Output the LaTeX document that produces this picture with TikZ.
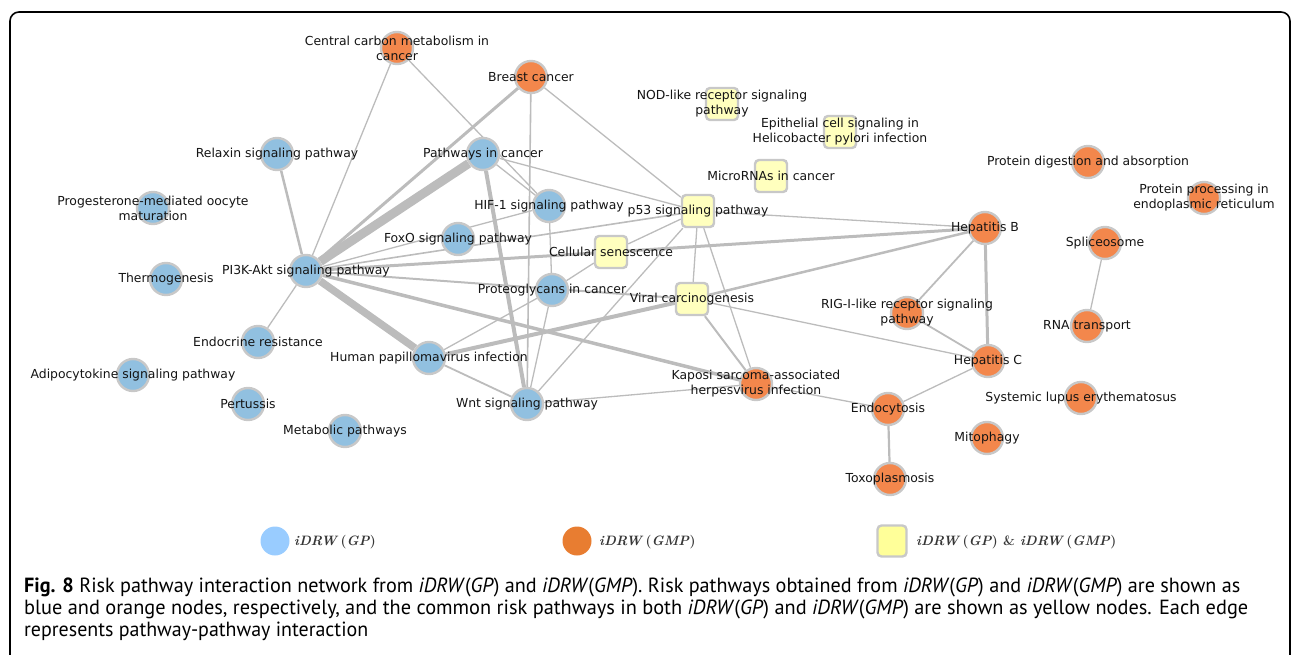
\documentclass[tikz,border=0pt]{standalone}
\usepackage{fontspec}
\usepackage{graphicx}
\usetikzlibrary{backgrounds}
\newfontfamily\labfont{DejaVu Sans}
\newfontfamily\capfont{PT Sans}
\definecolor{nblue}{RGB}{145,192,224}
\definecolor{norange}{RGB}{243,135,76}
\definecolor{nyellow}{RGB}{255,255,190}
\definecolor{nborder}{RGB}{200,200,200}
\definecolor{edgec}{RGB}{188,188,188}
\definecolor{lblue}{RGB}{153,204,255}
\definecolor{lorange}{RGB}{232,125,49}
\definecolor{lyellow}{RGB}{255,255,153}
\definecolor{txt}{RGB}{20,20,20}
\tikzset{
  bnode/.style={circle, fill=nblue, draw=nborder, line width=2.4pt, minimum size=32pt, inner sep=0pt},
  onode/.style={circle, fill=norange, draw=nborder, line width=2.4pt, minimum size=32pt, inner sep=0pt},
  ynode/.style={rectangle, rounded corners=4pt, fill=nyellow, draw=nborder, line width=2.4pt, minimum size=32pt, inner sep=0pt},
  lab/.style={font=\labfont\fontsize{12.4}{15}\selectfont, text=txt, align=center, inner sep=0pt},
  edge/.style={draw=edgec, line width=1.3pt},
  legtxt/.style={font=\fontsize{13.6}{16}\selectfont\bfseries, text=txt!85, anchor=west, inner sep=0pt},
  captxt/.style={font=\capfont\fontsize{20.5}{22}\selectfont, text=black, anchor=base west, inner sep=0pt}
}
\begin{document}
\begin{tikzpicture}[x=1pt,y=-1pt]
\useasboundingbox (0,0) rectangle (1292,655);
\draw[line width=1.6pt, rounded corners=9pt] (10,660) -- (10,12) -- (1290,12) -- (1290,660);
% nodes
\node[onode] (cc) at (397,48) {};
\node[onode] (bc) at (531,77) {};
\node[ynode] (nod) at (722,104) {};
\node[ynode] (epi) at (840,132) {};
\node[bnode] (relax) at (277,154) {};
\node[bnode] (pc) at (483,154) {};
\node[ynode] (mir) at (771,176) {};
\node[onode] (pdig) at (1088,162) {};
\node[onode] (pproc) at (1204,198) {};
\node[bnode] (prog) at (153,208) {};
\node[bnode] (hif) at (549,206) {};
\node[ynode] (p53) at (698,211) {};
\node[onode] (hepb) at (985,228) {};
\node[bnode] (fox) at (458,239) {};
\node[onode] (splic) at (1105,243) {};
\node[ynode] (cs) at (611,252) {};
\node[bnode] (pi3k) at (306,271) {};
\node[bnode] (thermo) at (166,279) {};
\node[bnode] (proteo) at (552,290) {};
\node[ynode] (vc) at (692,299) {};
\node[onode] (rig) at (907,313) {};
\node[onode] (rna) at (1087,326) {};
\node[bnode] (endo) at (258,342) {};
\node[bnode] (hpv) at (429,358) {};
\node[onode] (hepc) at (988,361) {};
\node[bnode] (adipo) at (133,375) {};
\node[onode] (kshv) at (756,384) {};
\node[onode] (sle) at (1081,398) {};
\node[bnode] (pert) at (248,404) {};
\node[bnode] (wnt) at (527,404) {};
\node[onode] (endoc) at (888,409) {};
\node[onode] (mito) at (987,438) {};
\node[bnode] (metab) at (345,431) {};
\node[onode] (toxo) at (890,479) {};
% edges
\begin{scope}[on background layer]
\draw[edge, line width=9pt] (pi3k) -- (pc);
\draw[edge, line width=7.5pt] (pi3k) -- (hpv);
\draw[edge, line width=4pt] (pc) -- (wnt);
\draw[edge, line width=4pt] (hpv) -- (vc);
\draw[edge, line width=3.5pt] (pi3k) -- (kshv);
\draw[edge, line width=3pt] (pi3k) -- (cs);
\draw[edge, line width=3pt] (cs) -- (hepb);
\draw[edge, line width=3pt] (pi3k) -- (bc);
\draw[edge, line width=2.5pt] (pi3k) -- (relax);
\draw[edge, line width=2.5pt] (vc) -- (hepb);
\draw[edge, line width=3pt] (hepb) -- (hepc);
\draw[edge, line width=2pt] (pi3k) -- (vc);
\draw[edge, line width=2.2pt] (endoc) -- (toxo);
\draw[edge, line width=2pt] (vc) -- (kshv);
\draw[edge, line width=1.8pt] (hepb) -- (rig);
\draw[edge, line width=1.8pt] (rig) -- (hepc);
\draw[edge, line width=1.8pt] (hpv) -- (wnt);
\draw[edge, line width=1.6pt] (bc) -- (wnt);
\draw[edge] (pi3k) -- (cc);
\draw[edge] (pi3k) -- (endo);
\draw[edge] (pi3k) -- (hif);
\draw[edge, line width=1.6pt] (pi3k) -- (p53);
\draw[edge] (cc) -- (hif);
\draw[edge] (bc) -- (p53);
\draw[edge] (pc) -- (hif);
\draw[edge] (pc) -- (p53);
\draw[edge] (hif) -- (proteo);
\draw[edge] (p53) -- (hepb);
\draw[edge] (p53) -- (cs);
\draw[edge] (p53) -- (vc);
\draw[edge] (p53) -- (kshv);
\draw[edge] (p53) -- (wnt);
\draw[edge] (proteo) -- (cs);
\draw[edge] (proteo) -- (hpv);
\draw[edge] (proteo) -- (wnt);
\draw[edge] (wnt) -- (kshv);
\draw[edge] (vc) -- (hepc);
\draw[edge] (kshv) -- (endoc);
\draw[edge] (hepc) -- (endoc);
\draw[edge] (splic) -- (rna);
\end{scope}
% labels
\node[lab] at (cc) {Central carbon metabolism in\\cancer};
\node[lab] at (bc) {Breast cancer};
\node[lab] at (nod) {NOD-like receptor signaling\\pathway};
\node[lab] at (epi) {Epithelial cell signaling in\\Helicobacter pylori infection};
\node[lab] at (relax) {Relaxin signaling pathway};
\node[lab] at (pc) {Pathways in cancer};
\node[lab] at (mir) {MicroRNAs in cancer};
\node[lab] at (pdig) {Protein digestion and absorption};
\node[lab] at (pproc) {Protein processing in\\endoplasmic reticulum};
\node[lab] at (prog) {Progesterone-mediated oocyte\\maturation};
\node[lab] at (hif) {HIF-1 signaling pathway};
\node[lab] at (p53) {p53 signaling pathway};
\node[lab] at (hepb) {Hepatitis B};
\node[lab] at (fox) {FoxO signaling pathway};
\node[lab] at (splic) {Spliceosome};
\node[lab] at (cs) {Cellular senescence};
\node[lab] at (pi3k) {PI3K-Akt signaling pathway};
\node[lab] at (thermo) {Thermogenesis};
\node[lab] at (proteo) {Proteoglycans in cancer};
\node[lab] at (vc) {Viral carcinogenesis};
\node[lab] at (rig) {RIG-I-like receptor signaling\\pathway};
\node[lab] at (rna) {RNA transport};
\node[lab] at (endo) {Endocrine resistance};
\node[lab] at (hpv) {Human papillomavirus infection};
\node[lab] at (hepc) {Hepatitis C};
\node[lab] at (adipo) {Adipocytokine signaling pathway};
\node[lab] at (kshv) {Kaposi sarcoma-associated\\herpesvirus infection};
\node[lab] at (sle) {Systemic lupus erythematosus};
\node[lab] at (pert) {Pertussis};
\node[lab] at (wnt) {Wnt signaling pathway};
\node[lab] at (endoc) {Endocytosis};
\node[lab] at (mito) {Mitophagy};
\node[lab] at (metab) {Metabolic pathways};
\node[lab] at (toxo) {Toxoplasmosis};
% legend
\node[circle, fill=lblue, minimum size=29pt, inner sep=0pt] (lgb) at (275,541) {};
\node[legtxt] (lgbt) at (294,542) {\textit{iDRW}\,(\textit{GP})};
\node[circle, fill=lorange, minimum size=29pt, inner sep=0pt] (lgo) at (577,541) {};
\node[legtxt] (lgot) at (599,542) {\textit{iDRW}\,(\textit{GMP})};
\node[rectangle, rounded corners=4pt, fill=lyellow, draw=nborder, line width=2.4pt, minimum width=29pt, minimum height=31pt, inner sep=0pt] (lgy) at (892,541) {};
\node[legtxt] (lgyt) at (916,542) {\textit{iDRW}\,(\textit{GP}) \& \textit{iDRW}\,(\textit{GMP})};
% caption
\node[captxt] (c1) at (24,592) {\resizebox{1216pt}{\height}{\textbf{Fig. 8} Risk pathway interaction network from \textit{iDRW}(\textit{GP}) and \textit{iDRW}(\textit{GMP}). Risk pathways obtained from \textit{iDRW}(\textit{GP}) and \textit{iDRW}(\textit{GMP}) are shown as}};
\node[captxt] (c2) at (24,614) {\resizebox{1224pt}{\height}{blue and orange nodes, respectively, and the common risk pathways in both \textit{iDRW}(\textit{GP}) and \textit{iDRW}(\textit{GMP}) are shown as yellow nodes. Each edge}};
\node[captxt] (c3) at (24,636) {\resizebox{344pt}{\height}{represents pathway-pathway interaction}};
\end{tikzpicture}
\end{document}
